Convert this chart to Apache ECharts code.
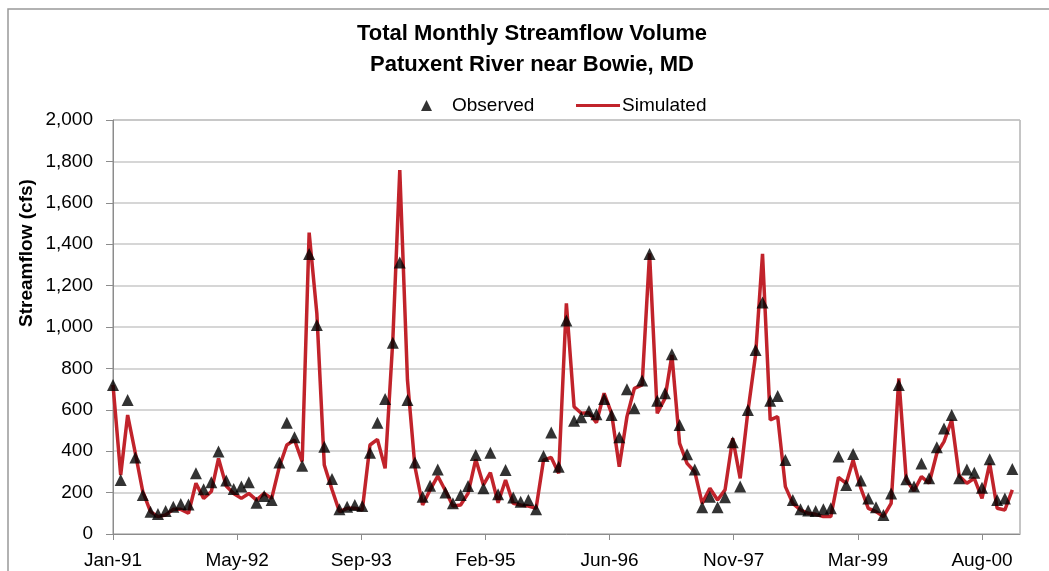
<!DOCTYPE html>
<html>
<head>
<meta charset="utf-8">
<title>Total Monthly Streamflow Volume</title>
<script src="https://cdn.jsdelivr.net/npm/echarts@6/dist/echarts.min.js"></script>
<style>
  html, body { margin: 0; padding: 0; background: #fff; }
  #streamflowChart { width: 1049px; height: 571px; }
</style>
</head>
<body>
<div id="streamflowChart"></div>
<script>
// monthly values, Jan-91 .. Dec-00 (cfs)
const startYear = 1991
const monthCount = 120
const observed = [
  720, 261, 647, 370, 188, 108, 97, 111, 132, 145, 143, 293,
  216, 250, 398, 258, 217, 229, 250, 151, 184, 164, 345, 538,
  467, 330, 1353, 1010, 422, 266, 119, 132, 140, 135, 393, 538,
  652, 924, 1312, 647, 345, 180, 233, 312, 200, 148, 188, 232,
  382, 221, 393, 192, 309, 176, 156, 164, 119, 377, 490, 325,
  1031, 547, 564, 594, 578, 652, 575, 467, 699, 607, 741, 1353,
  644, 680, 868, 527, 385, 312, 129, 180, 129, 177, 443, 229,
  599, 889, 1118, 644, 667, 357, 164, 119, 113, 111, 119, 124,
  374, 237, 386, 258, 172, 129, 92, 196, 720, 264, 229, 341,
  269, 419, 510, 575, 269, 312, 296, 224, 361, 164, 172, 314
]
const simulated = [
  720, 285, 575, 390, 205, 108, 84, 92, 119, 119, 100, 245,
  172, 205, 365, 232, 196, 172, 196, 164, 196, 172, 325, 430,
  454, 350, 1456, 1066, 333, 215, 108, 124, 124, 116, 430, 457,
  317, 937, 1758, 744, 325, 140, 213, 280, 209, 135, 140, 196,
  361, 237, 296, 151, 261, 148, 140, 135, 124, 357, 370, 293,
  1114, 615, 583, 586, 538, 680, 583, 325, 567, 704, 720, 1356,
  583, 655, 865, 438, 341, 301, 148, 221, 164, 213, 462, 269,
  591, 865, 1353, 551, 567, 229, 148, 116, 100, 95, 84, 84,
  274, 245, 357, 221, 124, 108, 84, 148, 752, 261, 209, 277,
  245, 390, 446, 551, 280, 245, 269, 172, 341, 124, 116, 213
]
const monthNames = ['Jan', 'Feb', 'Mar', 'Apr', 'May', 'Jun', 'Jul', 'Aug', 'Sep', 'Oct', 'Nov', 'Dec']

// x is days since 1 Jan 1991 (Excel-style date axis, 500 day major unit)
const DAY = 86400000
const t0 = Date.UTC(startYear, 0, 1)
const dayOf = i => (Date.UTC(startYear, i, 1) - t0) / DAY
const xDays = []
for (let i = 0; i < monthCount; i++) xDays.push(dayOf(i))

const FONT = '"Liberation Sans", Arial, sans-serif'

function dateLabel(v) {
  const d = new Date(t0 + v * DAY)
  return monthNames[d.getUTCMonth()] + '-' + String(d.getUTCFullYear()).slice(2)
}

const chart = echarts.init(document.getElementById('streamflowChart'))
chart.setOption({
  backgroundColor: '#fff',
  animation: false,
  textStyle: { fontFamily: FONT, color: '#000' },
  legend: [
    {
      data: [{ name: 'Observed', icon: 'triangle' }],
      left: 416,
      top: 91,
      itemWidth: 11,
      itemHeight: 11,
      textStyle: { fontFamily: FONT, fontSize: 19, color: '#000', padding: [0, 0, 0, 15] }
    },
    {
      data: [{ name: 'Simulated', icon: 'rect' }],
      left: 571,
      top: 91,
      itemWidth: 44,
      itemHeight: 3,
      textStyle: { fontFamily: FONT, fontSize: 19, color: '#000', padding: [0, 0, 0, -3] }
    }
  ],
  grid: {
    left: 113,
    right: 29,
    top: 120,
    bottom: 37,
    show: true,
    borderColor: '#8c8c8c',
    borderWidth: 1
  },
  xAxis: {
    type: 'value',
    min: 0,
    max: 3653,
    interval: 500,
    axisLine: { lineStyle: { color: '#8c8c8c', width: 1 } },
    axisTick: { show: true, length: 6, lineStyle: { color: '#8c8c8c' } },
    splitLine: { show: false },
    axisLabel: {
      showMaxLabel: false,
      margin: 17,
      fontFamily: FONT,
      fontSize: 19,
      color: '#000',
      formatter: dateLabel
    }
  },
  yAxis: {
    type: 'value',
    min: 0,
    max: 2000,
    interval: 200,
    axisLine: { show: true, lineStyle: { color: '#8c8c8c', width: 1 } },
    axisTick: { show: true, length: 7, lineStyle: { color: '#8c8c8c' } },
    splitLine: { lineStyle: { color: '#c8c8c8', width: 1.5 } },
    axisLabel: {
      margin: 20,
      fontFamily: FONT,
      fontSize: 19,
      color: '#000',
      formatter: v => v.toLocaleString('en-US')
    }
  },
  graphic: [
    {
      type: 'rect',
      silent: true,
      shape: { x: 8, y: 9, width: 1200, height: 700 },
      style: { fill: 'none', stroke: '#999', lineWidth: 1.5 }
    },
    {
      // chart title, centred over the plot like the Excel original
      type: 'text',
      silent: true,
      x: 532,
      y: 49,
      style: {
        text: 'Total Monthly Streamflow Volume\nPatuxent River near Bowie, MD',
        fontFamily: FONT,
        fontSize: 22,
        fontWeight: 'bold',
        lineHeight: 31,
        fill: '#000',
        align: 'center',
        verticalAlign: 'middle'
      }
    },
    {
      type: 'text',
      silent: true,
      x: 27,
      y: 253,
      rotation: Math.PI / 2,
      style: {
        text: 'Streamflow (cfs)',
        fontFamily: FONT,
        fontSize: 19,
        fontWeight: 'bold',
        fill: '#000',
        align: 'center',
        verticalAlign: 'middle'
      }
    }
  ],
  series: [
    {
      name: 'Simulated',
      type: 'line',
      data: xDays.map((d, i) => [d, simulated[i]]),
      showSymbol: false,
      symbol: 'none',
      color: '#c1232b',
      lineStyle: { color: '#c1232b', width: 3.5 },
      z: 2
    },
    {
      name: 'Observed',
      type: 'scatter',
      data: xDays.map((d, i) => [d, observed[i]]),
      symbol: 'triangle',
      symbolSize: 12,
      itemStyle: { color: '#000' },
      z: 3
    }
  ]
})
</script>
</body>
</html>
